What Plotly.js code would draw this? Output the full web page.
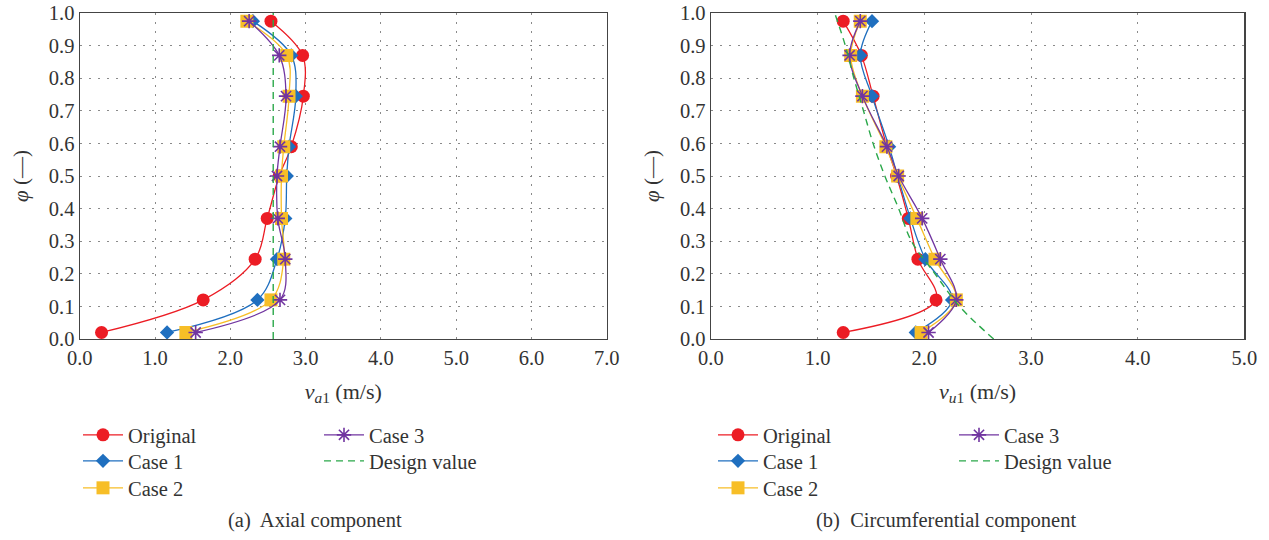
<!DOCTYPE html>
<html><head><meta charset="utf-8">
<script src="https://cdn.plot.ly/plotly-3.0.1.min.js"></script>
<style>body{margin:0;background:#fff}#chart{width:1269px;height:540px}</style>
</head><body><div id="chart"></div>
<script>
// φ levels of the measured points
const phi = [0.02, 0.12, 0.245, 0.37, 0.5, 0.59, 0.745, 0.87, 0.975];
// (a) axial component v_a1 (m/s)
const axialOriginal = [0.29, 1.64, 2.33, 2.49, 2.65, 2.81, 2.97, 2.96, 2.54];
const axialCase1 = [1.16, 2.36, 2.62, 2.73, 2.75, 2.78, 2.87, 2.81, 2.30];
const axialCase2 = [1.41, 2.54, 2.71, 2.68, 2.68, 2.71, 2.78, 2.75, 2.22];
const axialCase3 = [1.54, 2.66, 2.73, 2.63, 2.62, 2.66, 2.74, 2.65, 2.25];
const axialDesignPhi = [0, 1];
const axialDesign = [2.57, 2.57];
// (b) circumferential component v_u1 (m/s)
const circOriginal = [1.24, 2.11, 1.94, 1.85, 1.74, 1.65, 1.52, 1.41, 1.24];
const circCase1 = [1.92, 2.26, 2.01, 1.87, 1.75, 1.67, 1.51, 1.40, 1.51];
const circCase2 = [1.97, 2.30, 2.10, 1.93, 1.75, 1.64, 1.42, 1.31, 1.40];
const circCase3 = [2.04, 2.30, 2.15, 1.98, 1.76, 1.65, 1.42, 1.30, 1.40];
const circDesignPhi = [0.0, 0.1, 0.2, 0.3, 0.4, 0.5, 0.6, 0.7, 0.8, 0.9, 1.0];
const circDesign = [2.65, 2.33, 2.10, 1.88, 1.76, 1.63, 1.52, 1.43, 1.34, 1.26, 1.16];

const seriesNames = ['Original', 'Case 1', 'Case 2', 'Case 3', 'Design value'];
const xTitles = ['<i>v</i><sub><i>a</i>1</sub> (m/s)', '<i>v</i><sub><i>u</i>1</sub> (m/s)'];
const yTitle = '<i>φ</i> (—)';
const captions = ['(a)  Axial component', '(b)  Circumferential component'];

const FONT = 'Liberation Serif';
const colors = ['#EC1C24', '#1F6FBF', '#F7BE27', '#7135A0', '#2BA84A'];
const symbols = ['circle', 'diamond', 'square', 'asterisk-open'];
const sizes = [13, 11, 13, 12];

// legend ids: one small legend per entry so the two-column layout can be placed exactly
function legId(n) { return n === 1 ? 'legend' : 'legend' + n; }

function makeTraces(xs, design, designPhi, xa, ya, legBase) {
  const tr = [];
  xs.forEach((arr, i) => {
    tr.push({
      type: 'scatter', mode: 'lines+markers', name: seriesNames[i],
      x: arr, y: phi, xaxis: xa, yaxis: ya,
      legend: legId(legBase + i),
      line: {color: colors[i], width: 1.3, shape: 'spline', smoothing: 1},
      marker: {color: colors[i], symbol: symbols[i], size: sizes[i],
               line: {color: colors[i], width: i === 3 ? 1.6 : 0}},
      hoverinfo: 'x+y'
    });
  });
  tr.push({
    type: 'scatter', mode: 'lines', name: seriesNames[4],
    x: design, y: designPhi, xaxis: xa, yaxis: ya, legend: legId(legBase + 4),
    line: {color: colors[4], width: 1.4, dash: '7px,5px', shape: 'spline'}
  });
  return tr;
}

const data = [
  ...makeTraces([axialOriginal, axialCase1, axialCase2, axialCase3], axialDesign, axialDesignPhi, 'x', 'y', 1),
  ...makeTraces([circOriginal, circCase1, circCase2, circCase3], circDesign, circDesignPhi, 'x2', 'y2', 6)
];

const W = 1269, TOP = 13, BOT = 339;
const PH = BOT - TOP;
function py(p) { return (BOT - p) / PH; }

const axisBase = {
  showline: true, mirror: true, linecolor: '#444', linewidth: 1.2,
  showgrid: true, gridcolor: '#8a8a8a', gridwidth: 1, griddash: '2px,7px',
  zeroline: false, ticks: '', tickformat: '.1f',
  tickfont: {family: FONT, size: 20.5, color: '#333'}
};

function xAx(range, dom, title) {
  return Object.assign({}, axisBase, {
    range: range, dtick: 1, tick0: 0, domain: dom,
    title: {text: title, font: {family: FONT, size: 22, color: '#333'}, standoff: 15}
  });
}
function yAx(anchor) {
  return Object.assign({}, axisBase, {
    range: [0, 1], dtick: 0.1, tick0: 0, domain: [0, 1], anchor: anchor,
    title: {text: yTitle, font: {family: FONT, size: 21, color: '#333'}, standoff: 14}
  });
}

function legend(xpx, ycpx) {
  return {
    x: xpx / W, y: py(ycpx), xanchor: 'left', yanchor: 'middle',
    orientation: 'v', bgcolor: 'rgba(0,0,0,0)', borderwidth: 0,
    font: {family: FONT, size: 20.5, color: '#333'},
    itemsizing: 'trace', itemwidth: 40
  };
}

// legend entry positions (px): columns and rows below each panel
const legCols = [[78, 319], [713, 954]];
const legRows = [435, 461, 488];

const layout = {
  width: W, height: 540,
  margin: {l: 0, r: 0, t: TOP, b: 540 - BOT},
  paper_bgcolor: '#fff', plot_bgcolor: '#fff',
  showlegend: true,
  xaxis: xAx([0, 7], [79.7 / W, 606.8 / W], xTitles[0]),
  yaxis: yAx('x'),
  xaxis2: xAx([0, 5], [710.9 / W, 1244.4 / W], xTitles[1]),
  yaxis2: yAx('x2'),
  annotations: [
    {text: captions[0], xref: 'paper', yref: 'paper', x: 315 / W, y: py(520),
     showarrow: false, xanchor: 'center', yanchor: 'middle',
     font: {family: FONT, size: 20.5, color: '#333'}},
    {text: captions[1], xref: 'paper', yref: 'paper', x: 946 / W, y: py(520),
     showarrow: false, xanchor: 'center', yanchor: 'middle',
     font: {family: FONT, size: 20.5, color: '#333'}}
  ]
};
// entries 0..2 in first column, 3..4 in second column
[0, 1].forEach(panel => {
  for (let i = 0; i < 5; i++) {
    const col = i < 3 ? 0 : 1;
    const row = i < 3 ? i : i - 3;
    layout[legId(panel * 5 + i + 1)] = legend(legCols[panel][col], legRows[row]);
  }
});

Plotly.newPlot('chart', data, layout, {staticPlot: true, displayModeBar: false});
</script>
</body></html>
